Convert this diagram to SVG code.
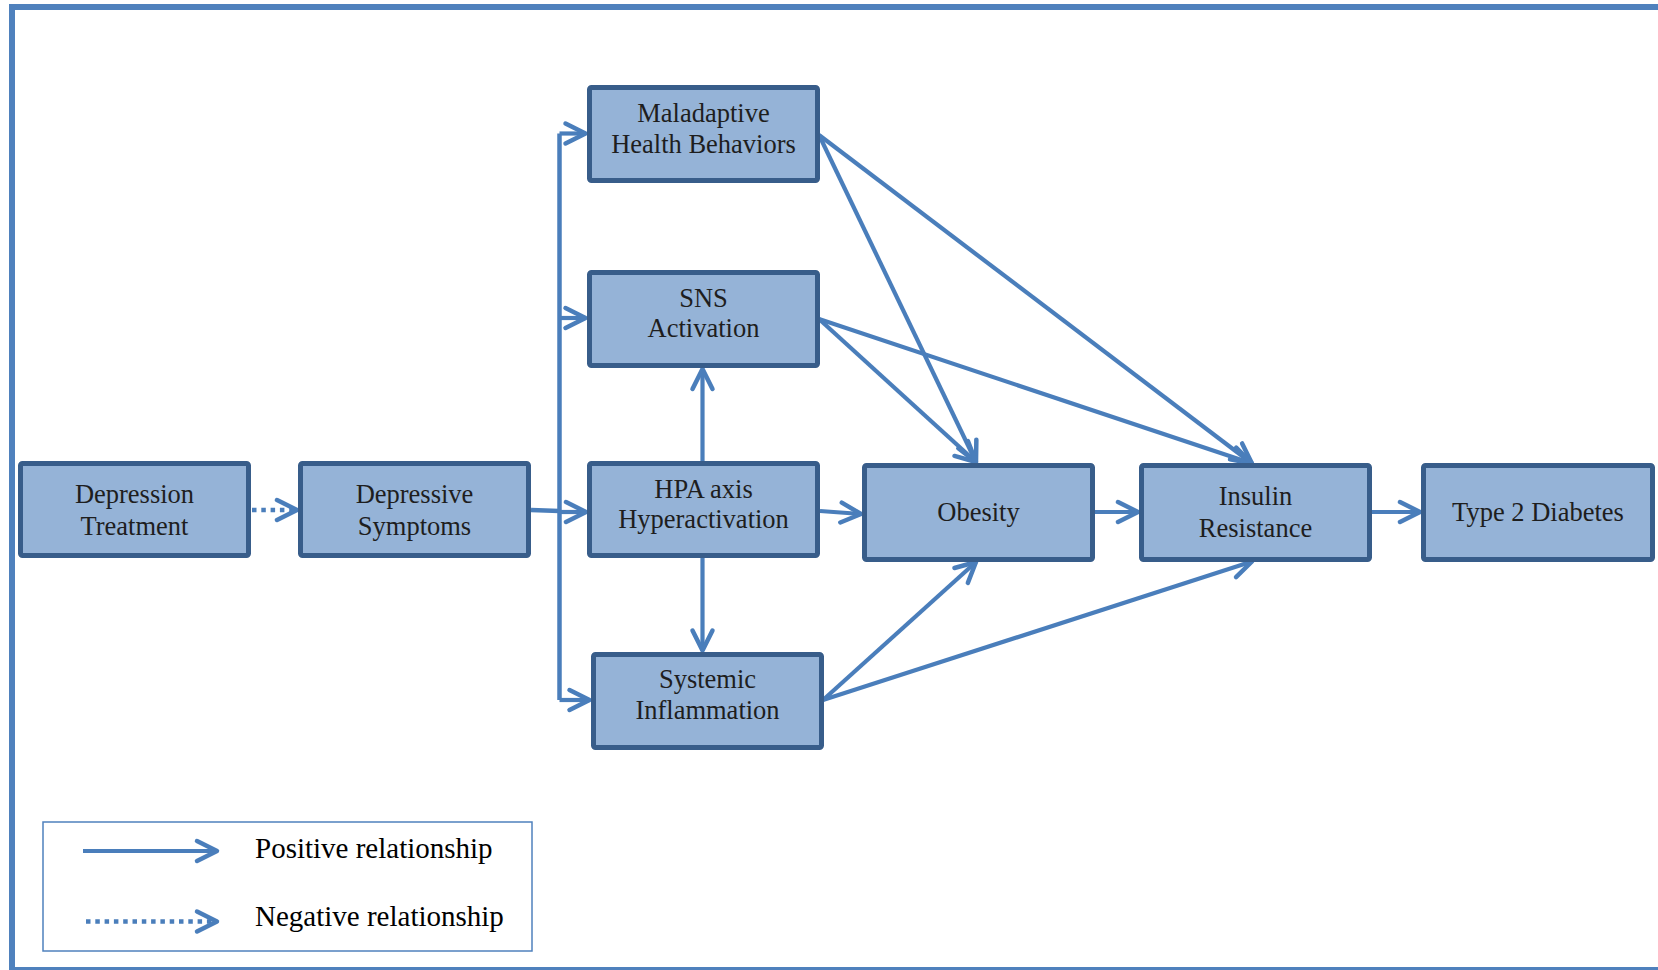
<svg xmlns="http://www.w3.org/2000/svg" width="1658" height="970" viewBox="0 0 1658 970">
<defs>
<style>
.box{fill:#95B3D7;stroke:#385D8A;stroke-width:5;stroke-linejoin:round}
.lbl{font-family:"Liberation Serif","Times New Roman",serif;font-size:26.5px;fill:#1e1e1e;text-anchor:middle}
.leg{font-family:"Liberation Serif","Times New Roman",serif;font-size:29px;fill:#000}
.con{fill:none;stroke:#4A7EBB;stroke-width:4.2;marker-end:url(#arr)}
.dot{fill:none;stroke:#4A7EBB;stroke-width:4.5;stroke-dasharray:4.5 4.8;marker-end:url(#arr)}
</style>
<marker id="arr" markerUnits="userSpaceOnUse" viewBox="-26 -15 30 30" markerWidth="30" markerHeight="30" refX="0" refY="0" orient="auto" overflow="visible">
<path d="M-20,-10 L0,0 L-20,10" fill="none" stroke="#4A7EBB" stroke-width="4.5" stroke-linecap="round" stroke-linejoin="round"/>
</marker>
</defs>
<rect id="frame" x="12" y="7" width="1700" height="963" fill="#fff" stroke="#4F81BD" stroke-width="6"/>

<g id="connectors">
<path class="dot" d="M252,510 L297,510"/>
<path d="M531,510 L559.5,511" fill="none" stroke="#4A7EBB" stroke-width="4.5"/>
<path d="M559.5,133.5 V700" fill="none" stroke="#4A7EBB" stroke-width="4.5"/>
<path class="con" d="M559.5,133.5 H585.5"/>
<path class="con" d="M559.5,318 H585.5"/>
<path class="con" d="M559.5,512 H586"/>
<path class="con" d="M559.5,700 H589.5"/>
<path class="con" d="M702.5,461 V369"/>
<path class="con" d="M702.5,557 V650.5"/>
<path class="con" d="M820,511 L861,514"/>
<path class="con" d="M819,135 L976,462"/>
<path class="con" d="M819,135 L1252,463.5"/>
<path class="con" d="M819,319 L976,462"/>
<path class="con" d="M819,319 L1252,463.5"/>
<path class="con" d="M1095,512 L1138,512"/>
<path class="con" d="M1372,512 L1420,512"/>
<path class="con" d="M823,700 L976,562"/>
<path class="con" d="M823,700 L1252,561.5"/>
</g>

<g id="n-depression-treatment">
<rect class="box" x="20.5" y="463.5" width="228" height="92" rx="2"/>
<text class="lbl" x="134.5" y="503">Depression</text>
<text class="lbl" x="134.5" y="535">Treatment</text>
</g>
<g id="n-depressive-symptoms">
<rect class="box" x="300.5" y="463.5" width="228" height="92" rx="2"/>
<text class="lbl" x="414.5" y="503">Depressive</text>
<text class="lbl" x="414.5" y="535">Symptoms</text>
</g>
<g id="n-maladaptive">
<rect class="box" x="589.5" y="87.5" width="228" height="93" rx="2"/>
<text class="lbl" x="703.5" y="122">Maladaptive</text>
<text class="lbl" x="703.5" y="152.5">Health Behaviors</text>
</g>
<g id="n-sns">
<rect class="box" x="589.5" y="272.5" width="228" height="93" rx="2"/>
<text class="lbl" x="703.5" y="307">SNS</text>
<text class="lbl" x="703.5" y="337">Activation</text>
</g>
<g id="n-hpa">
<rect class="box" x="589.5" y="463.5" width="228" height="92" rx="2"/>
<text class="lbl" x="703.5" y="497.5">HPA axis</text>
<text class="lbl" x="703.5" y="527.5">Hyperactivation</text>
</g>
<g id="n-inflammation">
<rect class="box" x="593.5" y="654.5" width="228" height="93" rx="2"/>
<text class="lbl" x="707.5" y="688">Systemic</text>
<text class="lbl" x="707.5" y="718.5">Inflammation</text>
</g>
<g id="n-obesity">
<rect class="box" x="864.5" y="465.5" width="228" height="94" rx="2"/>
<text class="lbl" x="978.5" y="521">Obesity</text>
</g>
<g id="n-insulin">
<rect class="box" x="1141.5" y="465.5" width="228" height="94" rx="2"/>
<text class="lbl" x="1255.5" y="505">Insulin</text>
<text class="lbl" x="1255.5" y="537">Resistance</text>
</g>
<g id="n-diabetes">
<rect class="box" x="1423.5" y="465.5" width="229" height="94" rx="2"/>
<text class="lbl" x="1538" y="521">Type 2 Diabetes</text>
</g>

<g id="legend">
<rect x="43" y="822" width="489" height="129" fill="#fff" stroke="#4F81BD" stroke-width="1.5"/>
<path class="con" d="M83,851 L217,851" stroke-width="5"/>
<path class="dot" d="M86,921.5 L217,921.5"/>
<text class="leg" x="255" y="858">Positive relationship</text>
<text class="leg" x="255" y="926">Negative relationship</text>
</g>
</svg>
